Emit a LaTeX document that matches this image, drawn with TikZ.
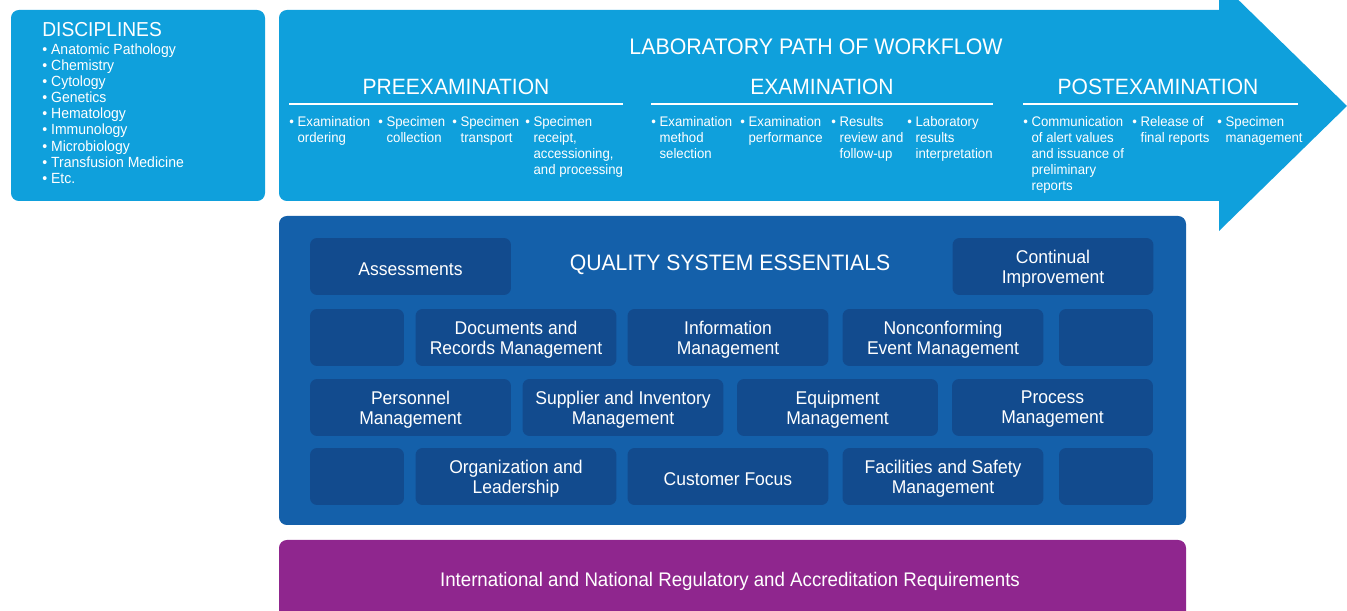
\documentclass[tikz,border=0pt]{standalone}
\usepackage{fontspec}
\setmainfont{Liberation Sans}[FakeStretch=0.95]
\usetikzlibrary{positioning}

\definecolor{pathblue}{HTML}{0FA0DC}
\definecolor{qsblue}{HTML}{1460AA}
\definecolor{qsdark}{HTML}{124B8E}
\definecolor{regpurple}{HTML}{8F268E}

\newcommand{\bul}{\textbullet\ }
\newcommand{\bulpad}{\hphantom{\textbullet\ }}

\begin{document}
\begin{tikzpicture}[x=0.02cm, y=-0.02cm,
    every node/.style={text=white},
    item/.style={anchor=north west, align=left, inner sep=0pt, font=\fontsize{7.9}{9.1}\selectfont},
    phase/.style={inner sep=0pt, font=\fontsize{12.6}{14}\selectfont},
    qbox/.style={fill=qsdark, rounded corners=4pt, minimum width=4.02cm, minimum height=1.14cm,
        align=center, inner sep=0pt, font=\fontsize{10.5}{11.4}\selectfont, text depth=0pt,
        execute at begin node={\rule{0pt}{10.3pt}}},
    qsmall/.style={qbox, minimum width=1.88cm}]
    \useasboundingbox (0,0) rectangle (1347,611);

    % Disciplines
    \fill[pathblue, rounded corners=4.5pt] (11,10) rectangle (265,201);
    \node[anchor=west, inner sep=0pt, font=\fontsize{11.5}{13}\selectfont] (disc) at (42,30) {DISCIPLINES};
    \node[anchor=north west, align=left, inner sep=0pt, font=\fontsize{8.4}{9.2}\selectfont] (disclist) at (42,43)
        {\bul Anatomic Pathology\\ \bul Chemistry\\ \bul Cytology\\ \bul Genetics\\ \bul Hematology\\
         \bul Immunology\\ \bul Microbiology\\ \bul Transfusion Medicine\\ \bul Etc.};

    % Workflow arrow
    \fill[pathblue, rounded corners=4.5pt] (279,10) rectangle (1232,201);
    \fill[pathblue] (1219,-19) -- (1347,106) -- (1219,231) -- cycle;
    \node[inner sep=0pt, font=\fontsize{12.8}{14}\selectfont] (path) at (816,47) {LABORATORY PATH OF WORKFLOW};

    \node[phase] (pre) at (456,87) {PREEXAMINATION};
    \node[phase] (exam) at (822,87) {EXAMINATION};
    \node[phase] (post) at (1158,87) {POSTEXAMINATION};
    \draw[white, line width=0.6pt] (289,104) -- (623,104);
    \draw[white, line width=0.6pt] (651,104) -- (993,104);
    \draw[white, line width=0.6pt] (1023,104) -- (1298,104);

    \node[item] (pre1) at (289,116) {\bul Examination\\ \bulpad ordering};
    \node[item] (pre2) at (378,116) {\bul Specimen\\ \bulpad collection};
    \node[item] (pre3) at (452,116) {\bul Specimen\\ \bulpad transport};
    \node[item] (pre4) at (525,116) {\bul Specimen\\ \bulpad receipt,\\ \bulpad accessioning,\\ \bulpad and processing};

    \node[item] (exam1) at (651,116) {\bul Examination\\ \bulpad method\\ \bulpad selection};
    \node[item] (exam2) at (740,116) {\bul Examination\\ \bulpad performance};
    \node[item] (exam3) at (831,116) {\bul Results\\ \bulpad review and\\ \bulpad follow-up};
    \node[item] (exam4) at (907,116) {\bul Laboratory\\ \bulpad results\\ \bulpad interpretation};

    \node[item] (post1) at (1023,116) {\bul Communication\\ \bulpad of alert values\\ \bulpad and issuance of\\ \bulpad preliminary\\ \bulpad reports};
    \node[item] (post2) at (1132,116) {\bul Release of\\ \bulpad final reports};
    \node[item] (post3) at (1217,116) {\bul Specimen\\ \bulpad management};

    % Quality system essentials
    \fill[qsblue, rounded corners=4.5pt] (279,216) rectangle (1186,525);
    \node[inner sep=0pt, font=\fontsize{12.7}{14}\selectfont] (qse) at (730,265) {QUALITY SYSTEM ESSENTIALS};

    \node[qbox] (assess) at (410.5,266.5) {Assessments};
    \node[qbox] (improve) at (1053,266.5) {Continual\\Improvement};

    \node[qsmall] (blank1) at (357,337.5) {};
    \node[qbox] (docs) at (516,337.5) {Documents and\\Records Management};
    \node[qbox] (info) at (728,337.5) {Information\\Management};
    \node[qbox] (noncon) at (943,337.5) {Nonconforming\\Event Management};
    \node[qsmall] (blank2) at (1106,337.5) {};

    \node[qbox] (staff) at (410.5,407.5) {Personnel\\Management};
    \node[qbox] (supply) at (623,407.5) {Supplier and Inventory\\Management};
    \node[qbox] (equip) at (837.5,407.5) {Equipment\\Management};
    \node[qbox] (process) at (1052.5,407.5) {Process\\Management};

    \node[qsmall] (blank3) at (357,476.5) {};
    \node[qbox] (org) at (516,476.5) {Organization and\\Leadership};
    \node[qbox] (cust) at (728,476.5) {Customer Focus};
    \node[qbox] (safety) at (943,476.5) {Facilities and Safety\\Management};
    \node[qsmall] (blank4) at (1106,476.5) {};

    % Regulatory requirements
    \fill[regpurple, rounded corners=4.5pt] (279,540) rectangle (1186,630);
    \node[inner sep=0pt, font=\fontsize{11.2}{12}\selectfont] (reg) at (730,581)
        {International and National Regulatory and Accreditation Requirements};
\end{tikzpicture}
\end{document}
